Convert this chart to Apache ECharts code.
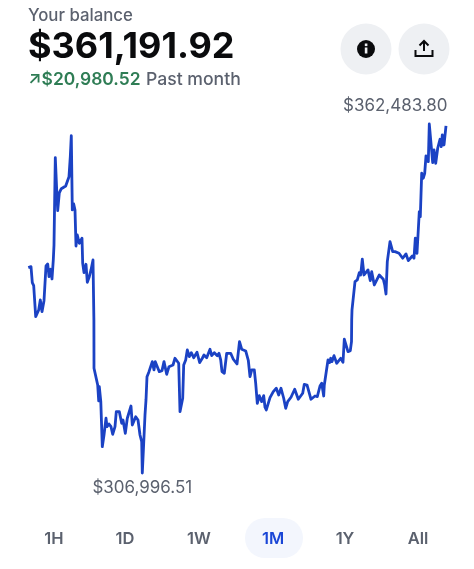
<!DOCTYPE html>
<html><head><meta charset="utf-8">
<style>html,body{margin:0;padding:0;background:#fff}#c{width:474px;height:569px}</style>
<script src="https://cdn.jsdelivr.net/npm/echarts@6/dist/echarts.min.js"></script>
</head><body><div id="c"></div>
<script>
const rangeLabels = ['1H','1D','1W','1M','1Y','All'];
const activeRange = '1M';
const balanceTitle = 'Your balance';
const balanceText = '$361,191.92';
const changeText = '↗$20,980.52';
const changePeriod = 'Past month';
const highLabel = '$362,483.80';
const lowLabel = '$306,996.51';
const timePos = [0.3,3,4.3,5.7,6.3,7.7,9.3,10.7,12.3,14,16,17.3,18,19.7,21,22.7,24,25.3,26,27.3,28.7,29.7,31.3,33.3,35.3,37.7,41,42.3,43.3,44.3,45.7,47,48,49.3,51.3,54,54.7,56,58,59.3,61.3,63,65,65.9,66,67.3,69.7,70.7,71.3,72.7,72.8,74.3,76,78,79,81,83,84.7,87,88.3,91.3,93.7,95,97.3,99.3,101.3,103,104.3,107.7,110,112,113.7,114.3,115.7,117,118,119,121,122.3,124.3,126,127.3,129.3,131.3,134,136,138,138.7,141,143,145,147,150.7,152,153.7,154.7,155.7,157.7,159.3,161.3,163.3,165.7,169,171.7,174.3,176,178.7,182,183.7,186.3,189.3,191,192.7,194,196.3,198.7,202.7,205.3,209,211.5,213.7,217.7,220.3,222,223.7,226.3,227.7,229.3,231.3,233.7,235.7,237,238.3,242,245.3,248.3,250.7,253,255.7,257.7,259.7,263,266.7,270.3,274.7,276.3,279,283,287,289.3,292,293.7,295.7,296.3,298.3,300,301.5,302.7,304,306,307.3,308.7,312.7,315,316.3,320,322.3,323.5,323.7,324,327,329.3,331.3,332.7,334.3,336,340,342.3,343.7,346.3,347.3,351.3,355.3,356.7,358,359.3,361,362,364.7,367,371,374.7,378,380.3,384.3,386,387.3,389,390.3,391.3,392.3,393.7,395.3,396.7,398,400.3,401.3,403,404.7,406,407.7,409.7,410.7,412,413.3,414.3,416,418];
const balanceK = [339.64,339.80,337.26,336.78,335.30,331.85,332.12,332.92,334.51,332.65,334.40,334.62,339.91,340.23,338.21,339.39,337.85,340.87,343.25,357.13,352.00,348.71,351.52,352.20,352.00,352.63,354.11,357.29,360.63,348.82,349.77,348.82,343.09,344.84,343.52,344.32,340.34,338.85,340.18,337.32,338.21,339.28,340.87,331.33,323.65,323.49,320.99,318.45,320.72,320.72,318.34,311.18,313.04,315.70,314.36,314.79,314.36,313.15,314.36,316.75,316.75,314.90,315.43,313.31,315.70,315.43,317.65,314.63,315.95,315.43,313.04,311.98,306.99651,311.72,316.22,318.61,322.31,323.11,323.38,324.70,323.38,324.70,324.70,323.11,323.27,324.70,324.44,322.69,323.90,323.65,324.17,325.24,324.44,316.75,316.75,318.88,324.17,324.97,326.56,325.49,326.13,325.33,326.19,324.54,325.24,325.76,325.33,326.67,325.65,326.13,325.65,326.03,324.97,323.11,322.85,326.03,326.03,325.08,324.33,327.88,326.67,326.40,324.92,322.31,323.38,323.38,321.26,318.08,319.29,318.34,319.29,317.45,317.02,318.97,319.93,320.47,319.40,320.47,318.88,317.29,318.34,319.04,320.31,318.72,319.67,321.10,320.99,318.72,319.24,319.13,320.83,321.26,319.24,320.99,321.26,324.97,324.54,325.24,324.70,325.65,325.87,324.44,325.24,324.60,328.26,326.29,326.45,327.88,331.33,332.92,337.42,337.69,338.85,338.48,340.98,338.48,339.28,337.58,339.01,336.89,336.89,338.48,337.80,336.89,335.46,340.60,340.87,343.78,342.19,342.19,341.93,341.14,341.82,340.76,341.50,341.14,344.32,341.93,341.93,348.55,347.75,354.65,353.86,354.65,357.40,356.50,362.4838,362.40,356.34,358.36,356.24,358.63,358.63,360.06,358.88,360.74,359.15,362.17,361.19];

const FONT = 'Inter, "Noto Sans", sans-serif';
const GRAY = '#5b616e', BLUE = '#1a46d6';
const points = timePos.slice(0, balanceK.length).map((t, i) => [t, balanceK[i]]);
const rangeX = [54,125,199,273,345,418];

const graphics = [
  {type:'text',x:28,y:16,style:{text:balanceTitle,verticalAlign:'middle',font:'500 16.8px '+FONT,fill:GRAY}},
  {type:'text',x:28,y:47,style:{text:balanceText,verticalAlign:'middle',font:'700 36px '+FONT,fill:'#0a0b0d'}},
  {type:'text',x:28,y:80,style:{text:changeText,verticalAlign:'middle',font:'600 17.4px '+FONT,fill:'#2f7d55'}},
  {type:'text',x:146,y:80,style:{text:changePeriod,verticalAlign:'middle',font:'500 17.6px '+FONT,fill:GRAY}},
  {type:'circle',shape:{cx:366,cy:49,r:25.5},style:{fill:'#eef0f3'}},
  {type:'circle',shape:{cx:424,cy:49,r:25.5},style:{fill:'#eef0f3'}},
  {type:'circle',shape:{cx:366,cy:49,r:9},style:{fill:'#0a0b0d'}},
  {type:'rect',shape:{x:364.8,y:47.5,width:2.6,height:6},style:{fill:'#eef0f3'}},
  {type:'rect',shape:{x:364.8,y:43.5,width:2.6,height:2.6},style:{fill:'#eef0f3'}},
  {type:'polyline',shape:{points:[[415.5,50],[415.5,56],[432.5,56],[432.5,50]]},style:{stroke:'#0a0b0d',lineWidth:2,fill:'none'}},
  {type:'polyline',shape:{points:[[424,51],[424,41]]},style:{stroke:'#0a0b0d',lineWidth:2,fill:'none'}},
  {type:'polyline',shape:{points:[[419.5,45.5],[424,41],[428.5,45.5]]},style:{stroke:'#0a0b0d',lineWidth:2,fill:'none'}},
  {type:'rect',shape:{x:245,y:518,width:58,height:40,r:20},style:{fill:'#f3f6fd'}}
];
rangeLabels.forEach((label,i)=>{
  graphics.push({type:'text',x:rangeX[i],y:539,style:{text:label,align:'center',verticalAlign:'middle',
    font:'600 16.5px '+FONT,fill:label===activeRange?BLUE:GRAY}});
});

const chart = echarts.init(document.getElementById('c'),null,{renderer:'canvas'});
chart.setOption({
  animation:false,
  backgroundColor:'#fff',
  grid:{left:28,width:418,top:124,height:349},
  xAxis:{type:'value',min:0,max:418,show:false},
  yAxis:{type:'value',min:306.99651,max:362.4838,show:false},
  graphic:graphics,
  series:[{
    type:'line',data:points,showSymbol:false,smooth:false,clip:false,
    lineStyle:{color:'#1b42c4',width:2.8,join:'round'},
    markPoint:{symbol:'circle',symbolSize:1,itemStyle:{color:'rgba(0,0,0,0)'},
      label:{show:true,position:'inside',fontFamily:'Inter',fontSize:17,fontWeight:400,color:GRAY},
      data:[
        {coord:[balanceK.indexOf(Math.max(...balanceK)) >= 0 ? timePos[balanceK.indexOf(Math.max(...balanceK))] : 0, Math.max(...balanceK)],
         label:{formatter:highLabel,offset:[-34,-18]}},
        {coord:[timePos[balanceK.indexOf(Math.min(...balanceK))], Math.min(...balanceK)],
         label:{formatter:lowLabel,offset:[0,15]}}
      ]}
  }]
});
</script></body></html>
